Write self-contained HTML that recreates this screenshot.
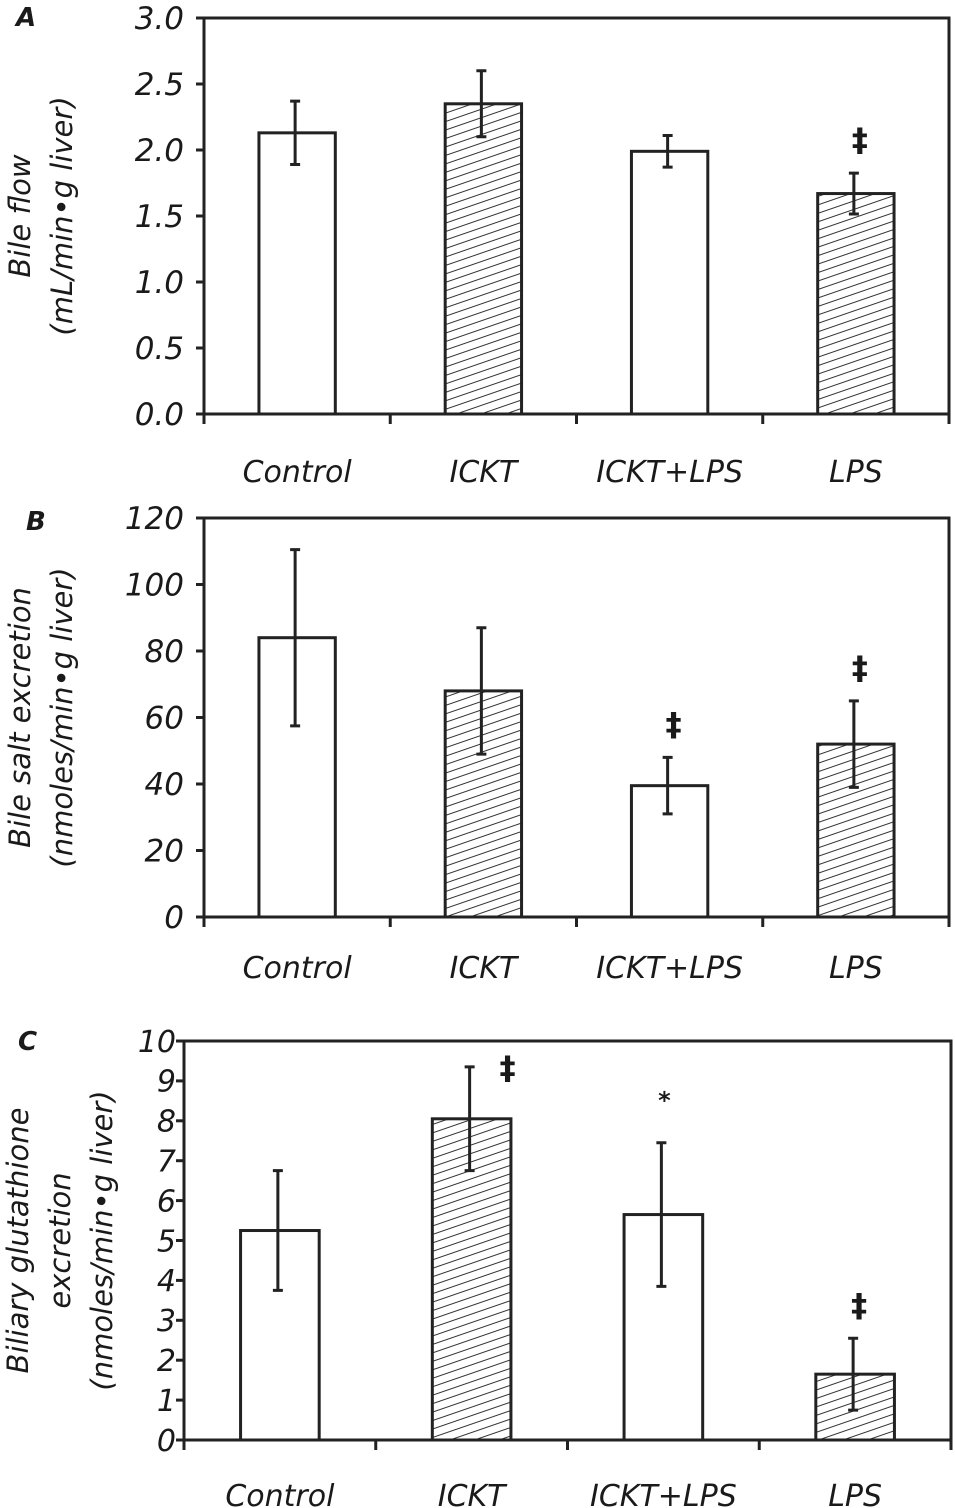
<!DOCTYPE html>
<html><head><meta charset="utf-8">
<style>
html,body{margin:0;padding:0;background:#fff;}
svg{display:block;}
text{font-family:"DejaVu Sans","Liberation Sans",sans-serif;fill:#1a1a1a;}
.it{font-style:italic;}
.nm{font-style:normal;}
</style></head>
<body>
<svg id="chart" width="955" height="1508" viewBox="0 0 955 1508">
<defs>
<pattern id="hatch" patternUnits="userSpaceOnUse" width="24" height="8" patternTransform="rotate(-19)">
<rect width="24" height="8" fill="#fff"/>
<line x1="0" y1="4" x2="24" y2="4" stroke="#333" stroke-width="1"/>
</pattern>
</defs>
</svg>
<script>
const categories = ["Control","ICKT","ICKT+LPS","LPS"];
const hatched = [false,true,false,true];
const meanA = [2.13,2.35,1.99,1.67];
const errA = [0.24,0.25,0.12,0.155];
const ticksA = ["0.0","0.5","1.0","1.5","2.0","2.5","3.0"];
const marksA = ["","","","‡"];
const meanB = [84,68,39.5,52];
const errB = [26.5,19,8.5,13];
const ticksB = ["0","20","40","60","80","100","120"];
const marksB = ["","","‡","‡"];
const meanC = [5.25,8.05,5.65,1.65];
const errC = [1.5,1.3,1.8,0.9];
const ticksC = ["0","1","2","3","4","5","6","7","8","9","10"];
const marksC = ["","‡","*","‡"];

const svg = document.getElementById('chart');
const NS = 'http://www.w3.org/2000/svg';
function mk(tag, attrs, parent){
  const e = document.createElementNS(NS, tag);
  for (const k in attrs) e.setAttribute(k, attrs[k]);
  (parent||svg).appendChild(e);
  return e;
}

function panel(o){
  const g = mk('g', {});
  
  
  const yMax = o.yMax;
  const y = v => o.y0 - (v / yMax) * (o.y0 - o.yTop);
  const bw = (o.x1 - o.x0) / categories.length;
  const xc = i => o.x0 + bw * (i + 0.5);
  const frame = mk('rect', {x:o.x0, y:o.yTop, width:o.x1-o.x0, height:o.y0-o.yTop, fill:'none', stroke:'#222', 'stroke-width':3}, g);
  
  
  o.ticks.forEach((t, i) => {
    const v = i * yMax / (o.ticks.length - 1);
    const yy = y(v);
    const tk = mk('line', {x1:o.x0-8, y1:yy, x2:o.x0, y2:yy, stroke:'#222', 'stroke-width':3}, g);
    
    
    const tl = mk('text', {x:o.x0-o.tickGap, y:yy + o.tickFs*0.36, 'text-anchor':'end', 'font-size':o.tickFs, class:'it'}, g);
    tl.textContent = t;
    
    
  });
  for (let i = 0; i <= categories.length; i++) {
    const xx = o.x0 + bw * i;
    const xt = mk('line', {x1:xx, y1:o.y0, x2:xx, y2:o.y0+10, stroke:'#222', 'stroke-width':3}, g);
    
    
  }
  const barW = bw * 0.41;
  categories.forEach((c, i) => {
    const cx = xc(i);
    const top = y(o.mean[i]);
    const b = mk('rect', {x:cx-barW/2, y:top, width:barW, height:o.y0-top, fill: hatched[i] ? 'url(#hatch)' : '#fff', stroke:'#222', 'stroke-width':3}, g);
    
    
    const ex = cx - 2;
    const hi = y(o.mean[i] + o.err[i]), lo = y(o.mean[i] - o.err[i]);
    const eb = mk('path', {d:`M${ex},${hi}V${lo}M${ex-5},${hi}H${ex+5}M${ex-5},${lo}H${ex+5}`, stroke:'#222', 'stroke-width':3, fill:'none'}, g);
    
    
    if (o.marks[i]) {
      const star = o.marks[i] === '*';
      let mx = cx + (star ? 1 : 4), my = hi - (star ? 34 : 22);
      if (my - 24 < o.yTop) { mx = cx + 36; my = hi + 12; }
      const m = mk('text', {x:mx, y:my, 'text-anchor':'middle', 'font-size': star ? 24 : 32, 'font-weight':'bold', class:'nm'}, g);
      m.textContent = o.marks[i];
      
      
    }
    const cl = mk('text', {x:cx, y:o.y0 + o.catDy, 'text-anchor':'middle', 'font-size':30, class:'it'}, g);
    cl.textContent = c;
    
    
  });
  const pl = mk('text', {x:o.letterX, y:o.letterY, 'font-size':26, 'font-weight':'bold', class:'it'}, g);
  pl.textContent = o.letter;
  
  
  const cy = (o.y0 + o.yTop) / 2;
  o.title.forEach((line, k) => {
    const tx = o.titleX + k * o.titleGap;
    const tt = mk('text', {x:tx, y:cy, 'text-anchor':'middle', 'font-size':o.titleFs, class:'it', transform:`rotate(-90 ${tx} ${cy})`}, g);
    tt.textContent = line;
    
    
  });
}

panel({name:'panel-a-bile-flow', x0:204, x1:949, yTop:18, y0:414, yMax:3, mean:meanA, err:errA, ticks:ticksA, marks:marksA, tickFs:31, tickGap:20, catDy:68,
  letter:'A', letterX:16, letterY:26, title:['Bile flow','(mL/min\u2022g liver)'], titleX:30, titleGap:42, titleFs:29});
panel({name:'panel-b-bile-salt', x0:204, x1:949, yTop:518, y0:917, yMax:120, mean:meanB, err:errB, ticks:ticksB, marks:marksB, tickFs:31, tickGap:20, catDy:61,
  letter:'B', letterX:26, letterY:530, title:['Bile salt excretion','(nmoles/min\u2022g liver)'], titleX:30, titleGap:42, titleFs:29});
panel({name:'panel-c-glutathione', x0:184, x1:951, yTop:1041, y0:1440, yMax:10, mean:meanC, err:errC, ticks:ticksC, marks:marksC, tickFs:30, tickGap:8, catDy:66,
  letter:'C', letterX:18, letterY:1050, title:['Biliary glutathione','excretion','(nmoles/min\u2022g liver)'], titleX:28, titleGap:42, titleFs:29});
</script>
</body></html>
